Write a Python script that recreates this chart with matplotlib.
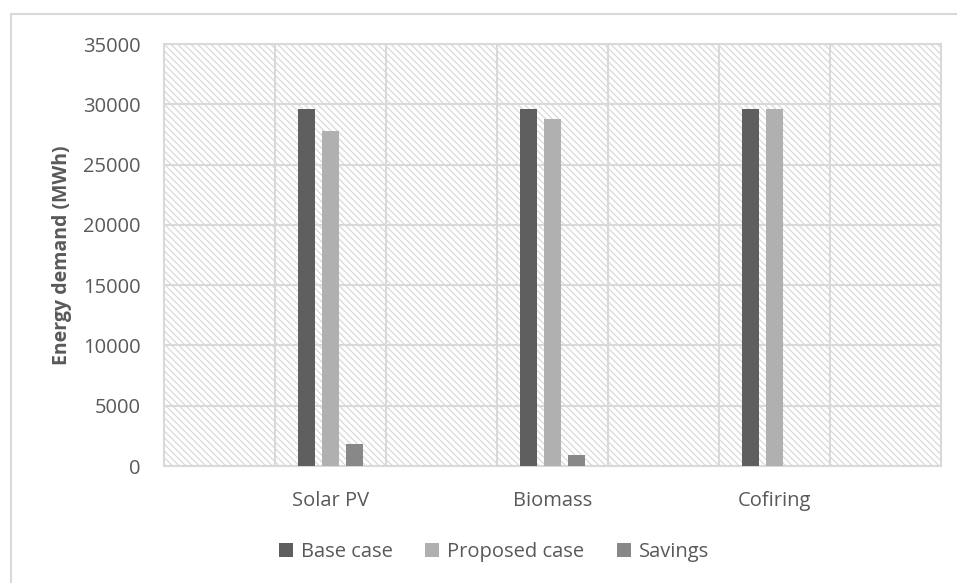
import numpy as np
import matplotlib
matplotlib.use("Agg")
import matplotlib.pyplot as plt
from matplotlib.patches import Rectangle

plt.rcParams['font.family'] = ['Open Sans', 'DejaVu Sans']
plt.rcParams['hatch.color'] = '#dadada'
plt.rcParams['hatch.linewidth'] = 0.9

# data
categories = ['Solar PV', 'Biomass', 'Cofiring']
series = ['Base case', 'Proposed case', 'Savings']
base_case = [29650, 29650, 29650]
proposed_case = [27800, 28750, 29650]
savings = [1850, 900, 0]
colors = ['#5f5f5f', '#b0b0b0', '#888888']
yticks = [0, 5000, 10000, 15000, 20000, 25000, 30000, 35000]

txt = '#595959'
grid = '#d9d9d9'

fig = plt.figure(figsize=(9.57, 5.83), dpi=100)
ax = fig.add_axes([164 / 957, 1 - 466 / 583, 777 / 957, 422 / 583])

# hatched plot background
ax.add_patch(Rectangle((0, 0), 1, 1, transform=ax.transAxes, facecolor='white',
                       edgecolor=grid, hatch='\\' * 5, linewidth=0, zorder=0))

x = np.arange(len(categories))
w = 0.077
step = 0.108
for i, (name, vals) in enumerate(zip(series, [base_case, proposed_case, savings])):
    ax.bar(x + (i - 1) * step, vals, width=w, color=colors[i], label=name, zorder=3)

ax.set_xlim(-0.75, 2.75)
ax.set_ylim(0, 35000)
ax.set_yticks(yticks)
ax.set_xticks(x)
ax.set_xticklabels(categories)
ax.set_xticks(np.arange(-0.25, 2.5, 0.5), minor=True)

ax.grid(axis='y', which='major', color=grid, linewidth=1.5, zorder=1)
ax.grid(axis='x', which='minor', color=grid, linewidth=1.5, zorder=1)
ax.set_axisbelow(True)
for s in ax.spines.values():
    s.set_color(grid)
    s.set_linewidth(1.5)

ax.tick_params(axis='both', which='both', length=0, labelsize=14.5, labelcolor=txt)
ax.tick_params(axis='y', pad=17)
ax.tick_params(axis='x', pad=18)

ax.set_ylabel('Energy demand (MWh)', fontsize=14, fontweight='bold', color=txt, labelpad=8)

fig.legend(loc='center', bbox_to_anchor=(494 / 957, 1 - 552 / 583), ncol=3, frameon=False,
           fontsize=14.5, labelcolor=txt, handlelength=0.7, handleheight=0.7,
           handletextpad=0.4, columnspacing=1.6)

# chart area border
fig.add_artist(Rectangle((11 / 957, -0.1), 1.2, 1 - 14 / 583 + 0.1, transform=fig.transFigure,
                         fill=False, edgecolor=grid, linewidth=1.5))

fig.savefig('out.png', dpi=100)
